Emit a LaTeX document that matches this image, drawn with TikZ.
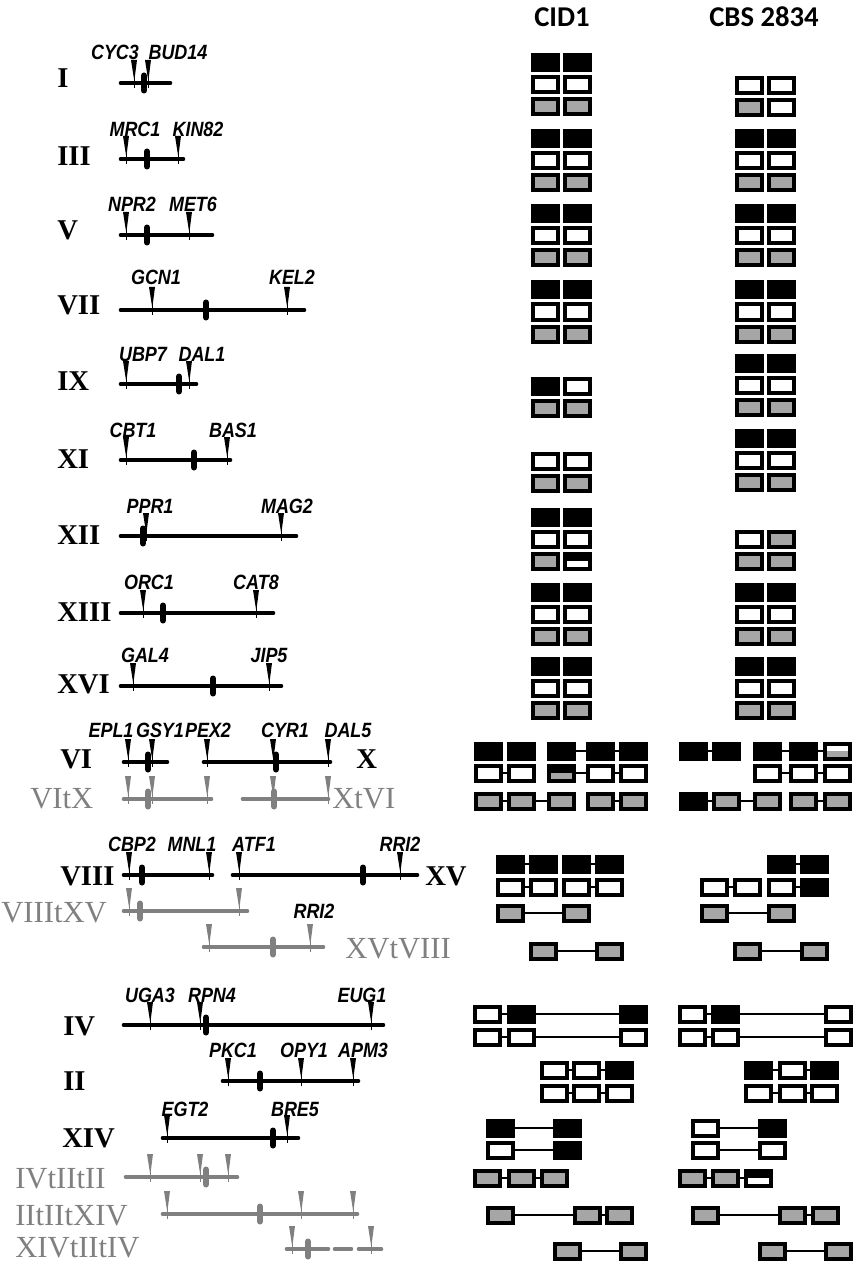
\documentclass[tikz,border=0pt]{standalone}
\usepackage{fontspec}
\setmainfont{Liberation Serif}
\newfontfamily\genefont{Liberation Sans}[FakeStretch=0.87]
\newfontfamily\headfont{Carlito}
\usetikzlibrary{positioning}
\definecolor{boxgray}{RGB}{166,166,166}
\definecolor{chrgray}{RGB}{128,128,128}

\begin{document}
\begin{tikzpicture}[x=0.75pt, y=-0.75pt,
  chr/.style={line width=3.5pt, line cap=round},
  chrname/.style={anchor=base west, inner sep=0pt, font=\fontsize{21.5}{24}\selectfont\bfseries},
  tname/.style={anchor=base west, inner sep=0pt, text=chrgray, font=\fontsize{23}{24}\selectfont},
  gene/.style={anchor=base, inner sep=0pt, font=\genefont\bfseries\itshape\fontsize{15.5}{16}\selectfont},
  head/.style={anchor=base, inner sep=0pt, font=\headfont\bfseries\fontsize{21.5}{24}\selectfont},
  cell/.style={rectangle, draw=black, line width=3pt, minimum width=18.75pt, minimum height=11.25pt, inner sep=0pt, outer sep=0pt},
  bk/.style={cell, fill=black},
  wh/.style={cell, fill=white},
  gy/.style={cell, fill=boxgray},
  bkw/.style={cell, fill=black, path picture={\fill[white] (path picture bounding box.south west) rectangle (path picture bounding box.east);}},
  bkg/.style={cell, fill=black, path picture={\fill[boxgray] (path picture bounding box.south west) rectangle (path picture bounding box.east);}},
  whg/.style={cell, fill=white, path picture={\fill[boxgray] (path picture bounding box.south west) rectangle (path picture bounding box.east);}},
  link/.style={line width=1.2pt},
  pics/wedge/.style={code={
    \fill (-3,-23) -- (3,-23) -- (0.3,-2) -- cycle;
    \draw[line width=0.7pt] (0,-23) -- (0,5);}},
  pics/cen/.style={code={\draw[line width=4.5pt, line cap=round] (0,-7.5) -- (0,7.5);}}]
\useasboundingbox (0,0) rectangle (853,1262);

% Headers
\node[head] (cid) at (562,27) {CID1};
\node[head] (cbs) at (764,27) {CBS 2834};

% Left: chromosome maps
% I
\node[chrname] (nI) at (57,88) {I};
\draw[chr] (121,83) -- (170,83);
\foreach \x in {134,148} \pic at (\x,83) {wedge};
\pic at (144,83) {cen};
\node[gene] (cyc3) at (115,60) {CYC3};
\node[gene] (bud14) at (178,60) {BUD14};

% III
\node[chrname] (nIII) at (57,166) {III};
\draw[chr] (121,159) -- (183,159);
\foreach \x in {126,178} \pic at (\x,159) {wedge};
\pic at (147,159) {cen};
\node[gene] (mrc1) at (135,137) {MRC1};
\node[gene] (kin82) at (198,137) {KIN82};

% V
\node[chrname] (nV) at (57,240) {V};
\draw[chr] (121,235) -- (212,235);
\foreach \x in {126,189} \pic at (\x,235) {wedge};
\pic at (147,235) {cen};
\node[gene] (npr2) at (132,212) {NPR2};
\node[gene] (met6) at (193,212) {MET6};

% VII
\node[chrname] (nVII) at (57,315) {VII};
\draw[chr] (121,310) -- (304,310);
\foreach \x in {152,287} \pic at (\x,310) {wedge};
\pic at (206,310) {cen};
\node[gene] (gcn1) at (156,285) {GCN1};
\node[gene] (kel2) at (292,285) {KEL2};

% IX
\node[chrname] (nIX) at (57,390) {IX};
\draw[chr] (121,384) -- (196,384);
\foreach \x in {126,189} \pic at (\x,384) {wedge};
\pic at (179,384) {cen};
\node[gene] (ubp7) at (143,361) {UBP7};
\node[gene] (dal1) at (202,361) {DAL1};

% XI
\node[chrname] (nXI) at (57,468) {XI};
\draw[chr] (121,460) -- (230,460);
\foreach \x in {126,227} \pic at (\x,460) {wedge};
\pic at (194,460) {cen};
\node[gene] (cbt1) at (133,437) {CBT1};
\node[gene] (bas1) at (233,437) {BAS1};

% XII
\node[chrname] (nXII) at (57,544) {XII};
\draw[chr] (121,536) -- (296,536);
\foreach \x in {146,281} \pic at (\x,536) {wedge};
\pic at (143,536) {cen};
\node[gene] (ppr1) at (150,513) {PPR1};
\node[gene] (mag2) at (287,513) {MAG2};

% XIII
\node[chrname] (nXIII) at (57,621) {XIII};
\draw[chr] (121,613) -- (273,613);
\foreach \x in {143,256} \pic at (\x,613) {wedge};
\pic at (163,613) {cen};
\node[gene] (orc1) at (149,589) {ORC1};
\node[gene] (cat8) at (256,589) {CAT8};

% XVI
\node[chrname] (nXVI) at (57,693) {XVI};
\draw[chr] (121,686) -- (281,686);
\foreach \x in {133,269} \pic at (\x,686) {wedge};
\pic at (213,686) {cen};
\node[gene] (gal4) at (145,662) {GAL4};
\node[gene] (jip5) at (269,662) {JIP5};

% VI and X
\node[chrname] (nVI) at (60,768) {VI};
\node[chrname] (nX) at (356,768) {X};
\draw[chr] (124,762) -- (167,762);
\draw[chr] (204,762) -- (330,762);
\foreach \x in {128,152,207,273,328} \pic at (\x,762) {wedge};
\pic at (148,762) {cen};
\pic at (276,762) {cen};
\node[gene] (epl1) at (111,737) {EPL1};
\node[gene] (gsy1) at (160,737) {GSY1};
\node[gene] (pex2) at (208,737) {PEX2};
\node[gene] (cyr1) at (285,737) {CYR1};
\node[gene] (dal5) at (348,737) {DAL5};

% VItX and XtVI
\begin{scope}[chrgray]
\node[tname] (nVItX) at (30,808) {VItX};
\node[tname] (nXtVI) at (332,808) {XtVI};
\draw[chr] (124,799) -- (211,799);
\draw[chr] (243,799) -- (328,799);
\foreach \x in {128,152,207,273,328} \pic at (\x,799) {wedge};
\pic at (148,799) {cen};
\pic at (274,799) {cen};
\end{scope}

% VIII and XV
\node[chrname] (nVIII) at (60,885) {VIII};
\node[chrname] (nXV) at (425,885) {XV};
\draw[chr] (124,875) -- (212,875);
\draw[chr] (233,875) -- (417,875);
\foreach \x in {129,209,239,400} \pic at (\x,875) {wedge};
\pic at (142,875) {cen};
\pic at (363,875) {cen};
\node[gene] (cbp2) at (132,851) {CBP2};
\node[gene] (mnl1) at (192,851) {MNL1};
\node[gene] (atf1) at (254,851) {ATF1};
\node[gene] (rri2) at (400,851) {RRI2};

% VIIItXV and XVtVIII
\begin{scope}[chrgray]
\node[tname] (nVIIItXV) at (1,922) {VIIItXV};
\draw[chr] (124,911) -- (247,911);
\foreach \x in {129,239} \pic at (\x,911) {wedge};
\pic at (140,911) {cen};
\node[tname] (nXVtVIII) at (345,958) {XVtVIII};
\draw[chr] (204,947) -- (323,947);
\foreach \x in {209,310} \pic at (\x,947) {wedge};
\pic at (273,947) {cen};
\end{scope}
\node[gene] (rri2t) at (314,918) {RRI2};

% IV
\node[chrname] (nIV) at (63,1035) {IV};
\draw[chr] (124,1025) -- (383,1025);
\foreach \x in {150,200,371} \pic at (\x,1025) {wedge};
\pic at (206,1025) {cen};
\node[gene] (uga3) at (150,1002) {UGA3};
\node[gene] (rpn4) at (212,1002) {RPN4};
\node[gene] (eug1) at (362,1002) {EUG1};

% II
\node[chrname] (nII) at (63,1090) {II};
\draw[chr] (223,1081) -- (358,1081);
\foreach \x in {228,301,353} \pic at (\x,1081) {wedge};
\pic at (260,1081) {cen};
\node[gene] (pkc1) at (233,1057) {PKC1};
\node[gene] (opy1) at (304,1057) {OPY1};
\node[gene] (apm3) at (363,1057) {APM3};

% XIV
\node[chrname] (nXIV) at (62,1147) {XIV};
\draw[chr] (163,1138) -- (298,1138);
\foreach \x in {167,287} \pic at (\x,1138) {wedge};
\pic at (273,1138) {cen};
\node[gene] (egt2) at (185,1116) {EGT2};
\node[gene] (bre5) at (295,1116) {BRE5};

% Translocations IV, II, XIV
\begin{scope}[chrgray]
\node[tname] (nIVtIItII) at (15,1188) {IVtIItII};
\draw[chr] (126,1177) -- (237,1177);
\foreach \x in {150,200,228} \pic at (\x,1177) {wedge};
\pic at (206,1177) {cen};
\node[tname] (nIItIItXIV) at (15,1225) {IItIItXIV};
\draw[chr] (163,1214) -- (357,1214);
\foreach \x in {167,301,353} \pic at (\x,1214) {wedge};
\pic at (260,1214) {cen};
\node[tname] (nXIVtIItIV) at (15,1257) {XIVtIItIV};
\draw[chr] (287,1249) -- (328,1249);
\draw[chr] (335,1249) -- (351,1249);
\draw[chr] (359,1249) -- (381,1249);
\foreach \x in {292,371} \pic at (\x,1249) {wedge};
\pic at (308,1249) {cen};
\end{scope}

% Right: karyotype boxes
% plain blocks: black / white / gray
\foreach \grp/\col/\xx/\yy in {I/c/545/63, III/c/545/139, III/s/749/139, V/c/545/214, V/s/749/214,
  VII/c/545/290, VII/s/749/290, IX/s/749/363, XI/s/749/438,
  XIII/c/545/592, XIII/s/749/592, XVI/c/545/666, XVI/s/749/666}
{
  \node[bk] (\col\grp-1a) at (\xx,\yy) {};
  \node[bk] (\col\grp-1b) at (\xx+32,\yy) {};
  \node[wh] (\col\grp-2a) at (\xx,\yy+22) {};
  \node[wh] (\col\grp-2b) at (\xx+32,\yy+22) {};
  \node[gy] (\col\grp-3a) at (\xx,\yy+44) {};
  \node[gy] (\col\grp-3b) at (\xx+32,\yy+44) {};
}

% I (CBS 2834)
\node[wh] (sI-2a) at (749,86) {};
\node[wh] (sI-2b) at (781,86) {};
\node[gy] (sI-3a) at (749,108) {};
\node[wh] (sI-3b) at (781,108) {};

% IX (CID1)
\node[bk] (cIX-1a) at (545,386) {};
\node[wh] (cIX-1b) at (577,386) {};
\node[gy] (cIX-2a) at (545,408) {};
\node[gy] (cIX-2b) at (577,408) {};

% XI (CID1)
\node[wh] (cXI-1a) at (545,461) {};
\node[wh] (cXI-1b) at (577,461) {};
\node[gy] (cXI-2a) at (545,483) {};
\node[gy] (cXI-2b) at (577,483) {};

% XII
\node[bk] (cXII-1a) at (545,517) {};
\node[bk] (cXII-1b) at (577,517) {};
\node[wh] (cXII-2a) at (545,539) {};
\node[wh] (cXII-2b) at (577,539) {};
\node[gy] (cXII-3a) at (545,561) {};
\node[bkw] (cXII-3b) at (577,561) {};
\node[wh] (sXII-1a) at (749,539) {};
\node[gy] (sXII-1b) at (781,539) {};
\node[gy] (sXII-2a) at (749,561) {};
\node[gy] (sXII-2b) at (781,561) {};

% VI / X (CID1)
\foreach \n/\x in {1/488, 2/521.5, 3/561, 4/600, 5/633}
  \node[bk] (cVX-1\n) at (\x,751) {};
\foreach \n/\x/\s in {1/488/wh, 2/521.5/wh, 3/561/bkg, 4/600/wh, 5/633/wh}
  \node[\s] (cVX-2\n) at (\x,773) {};
\foreach \n/\x in {1/488, 2/521.5, 3/561, 4/600, 5/633}
  \node[gy] (cVX-3\n) at (\x,801) {};
\draw[link] (cVX-13) -- (cVX-14);
\draw[link] (cVX-14) -- (cVX-15);
\draw[link] (cVX-21) -- (cVX-22);
\draw[link] (cVX-23) -- (cVX-24);
\draw[link] (cVX-24) -- (cVX-25);
\draw[link] (cVX-31) -- (cVX-32);
\draw[link] (cVX-32) -- (cVX-33);
\draw[link] (cVX-34) -- (cVX-35);

% VI / X (CBS 2834)
\foreach \n/\x/\s in {1/693.5/bk, 2/726.5/bk, 3/767/bk, 4/803.5/bk, 5/837.5/whg}
  \node[\s] (sVX-1\n) at (\x,751) {};
\foreach \n/\x in {3/767, 4/803.5, 5/837.5}
  \node[wh] (sVX-2\n) at (\x,773) {};
\foreach \n/\x/\s in {1/693.5/bk, 2/726.5/gy, 3/767/gy, 4/803.5/gy, 5/837.5/gy}
  \node[\s] (sVX-3\n) at (\x,801) {};
\draw[link] (sVX-11) -- (sVX-12);
\draw[link] (sVX-13) -- (sVX-14);
\draw[link] (sVX-14) -- (sVX-15);
\draw[link] (sVX-23) -- (sVX-24);
\draw[link] (sVX-24) -- (sVX-25);
\draw[link] (sVX-31) -- (sVX-32);
\draw[link] (sVX-32) -- (sVX-33);
\draw[link] (sVX-34) -- (sVX-35);

% VIII / XV (CID1)
\foreach \n/\x in {1/510.5, 2/543.5, 3/576.5, 4/609.5} {
  \node[bk] (cVXV-1\n) at (\x,864) {};
  \node[wh] (cVXV-2\n) at (\x,887) {};
}
\node[gy] (cVXV-31) at (510.5,913) {};
\node[gy] (cVXV-33) at (576.5,913) {};
\node[gy] (cVXV-42) at (543.5,951) {};
\node[gy] (cVXV-44) at (609.5,951) {};
\draw[link] (cVXV-11) -- (cVXV-12);
\draw[link] (cVXV-13) -- (cVXV-14);
\draw[link] (cVXV-21) -- (cVXV-22);
\draw[link] (cVXV-23) -- (cVXV-24);
\draw[link] (cVXV-31) -- (cVXV-33);
\draw[link] (cVXV-42) -- (cVXV-44);

% VIII / XV (CBS 2834)
\node[bk] (sVXV-13) at (781.5,864) {};
\node[bk] (sVXV-14) at (814,864) {};
\node[wh] (sVXV-21) at (714.5,887) {};
\node[wh] (sVXV-22) at (747,887) {};
\node[wh] (sVXV-23) at (781.5,887) {};
\node[bk] (sVXV-24) at (814,887) {};
\node[gy] (sVXV-31) at (714.5,913) {};
\node[gy] (sVXV-33) at (781.5,913) {};
\node[gy] (sVXV-42) at (747,951) {};
\node[gy] (sVXV-44) at (814,951) {};
\draw[link] (sVXV-13) -- (sVXV-14);
\draw[link] (sVXV-21) -- (sVXV-22);
\draw[link] (sVXV-23) -- (sVXV-24);
\draw[link] (sVXV-31) -- (sVXV-33);
\draw[link] (sVXV-42) -- (sVXV-44);

% IV
\node[wh] (cIV-11) at (487.5,1014) {};
\node[bk] (cIV-12) at (521,1014) {};
\node[bk] (cIV-13) at (633,1014) {};
\node[wh] (cIV-21) at (487.5,1037) {};
\node[wh] (cIV-22) at (521,1037) {};
\node[wh] (cIV-23) at (633,1037) {};
\node[wh] (sIV-11) at (692,1014) {};
\node[bk] (sIV-12) at (725,1014) {};
\node[wh] (sIV-13) at (838,1014) {};
\node[wh] (sIV-21) at (692,1037) {};
\node[wh] (sIV-22) at (725,1037) {};
\node[wh] (sIV-23) at (838,1037) {};
\foreach \c in {cIV, sIV} {
  \draw[link] (\c-11) -- (\c-12) -- (\c-13);
  \draw[link] (\c-21) -- (\c-22) -- (\c-23);
}

% II
\node[wh] (cII-11) at (554,1070) {};
\node[wh] (cII-12) at (586,1070) {};
\node[bk] (cII-13) at (619,1070) {};
\node[wh] (cII-21) at (554,1093) {};
\node[wh] (cII-22) at (586,1093) {};
\node[wh] (cII-23) at (619,1093) {};
\node[bk] (sII-11) at (758,1070) {};
\node[wh] (sII-12) at (792,1070) {};
\node[bk] (sII-13) at (824,1070) {};
\node[wh] (sII-21) at (758,1093) {};
\node[wh] (sII-22) at (792,1093) {};
\node[wh] (sII-23) at (824,1093) {};
\foreach \c in {cII, sII} {
  \draw[link] (\c-11) -- (\c-12) -- (\c-13);
  \draw[link] (\c-21) -- (\c-22) -- (\c-23);
}

% XIV
\node[bk] (cXIV-11) at (500.5,1128) {};
\node[bk] (cXIV-12) at (567,1128) {};
\node[wh] (cXIV-21) at (500.5,1150) {};
\node[bk] (cXIV-22) at (567,1150) {};
\node[wh] (sXIV-11) at (705.5,1128) {};
\node[bk] (sXIV-12) at (772,1128) {};
\node[wh] (sXIV-21) at (705.5,1150) {};
\node[wh] (sXIV-22) at (772,1150) {};
\foreach \c in {cXIV, sXIV} {
  \draw[link] (\c-11) -- (\c-12);
  \draw[link] (\c-21) -- (\c-22);
}

% IVtIItII
\node[gy] (cT1-1) at (487.5,1178) {};
\node[gy] (cT1-2) at (521,1178) {};
\node[gy] (cT1-3) at (554,1178) {};
\node[gy] (sT1-1) at (692,1178) {};
\node[gy] (sT1-2) at (725,1178) {};
\node[bkw] (sT1-3) at (758,1178) {};

% IItIItXIV
\node[gy] (cT2-1) at (500.5,1215) {};
\node[gy] (cT2-2) at (587,1215) {};
\node[gy] (cT2-3) at (619.5,1215) {};
\node[gy] (sT2-1) at (705.5,1215) {};
\node[gy] (sT2-2) at (792,1215) {};
\node[gy] (sT2-3) at (825,1215) {};

% XIVtIItIV
\node[gy] (cT3-1) at (567,1251) {};
\node[gy] (cT3-2) at (633,1251) {};
\node[gy] (sT3-1) at (772.5,1251) {};
\node[gy] (sT3-2) at (838,1251) {};

\foreach \c in {cT1, sT1, cT2, sT2} \draw[link] (\c-1) -- (\c-2) -- (\c-3);
\foreach \c in {cT3, sT3} \draw[link] (\c-1) -- (\c-2);

\end{tikzpicture}
\end{document}
